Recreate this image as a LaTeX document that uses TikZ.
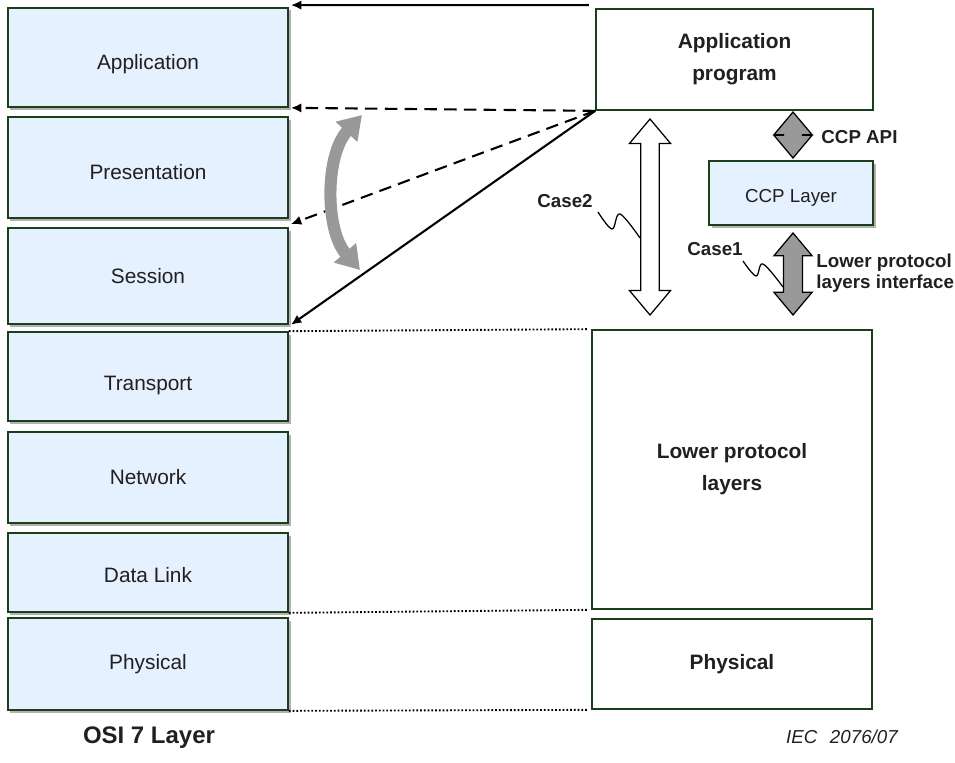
\documentclass[tikz,border=0pt]{standalone}
\usepackage{fontspec}
\setmainfont{Liberation Sans}
\usetikzlibrary{arrows.meta}
\usetikzlibrary{shapes.arrows}
\usetikzlibrary{shadows}
\definecolor{boxgreen}{HTML}{1B3F1B}
\definecolor{boxblue}{HTML}{E5F1FE}
\definecolor{txtgray}{HTML}{231F20}
\definecolor{arrowgray}{HTML}{999999}
\tikzset{osibox/.style = {draw = boxgreen, line width = 0.8pt, fill = boxblue, inner sep = 0,
                          drop shadow = {shadow xshift = 1.2pt, shadow yshift = -1.2pt,
                                         fill = black!30, opacity = 1},
                          text = txtgray, font = \fontsize{10}{12}\selectfont,
                          minimum width = 134.4pt}}
\tikzset{stackbox/.style = {draw = boxgreen, line width = 0.8pt, fill = white, inner sep = 0,
                            text = txtgray, align = center,
                            font = \fontsize{10}{15.4}\selectfont\bfseries,
                            minimum width = 134.4pt}}
\tikzset{fatarrow/.style = {double arrow, draw = black, line width = 0.6pt,
                            rotate = 90, double arrow tip angle = 80}}
\tikzset{note/.style = {text = txtgray, font = \fontsize{9}{10}\selectfont\bfseries, inner sep = 0}}
\tikzset{link/.style = {line width = 1pt, -{Latex[length = 5pt, width = 4.5pt]}}}
\tikzset{guide/.style = {line width = 0.9pt, dash pattern = on 0.9pt off 0.9pt}}

\begin{document}
\begin{tikzpicture}[x = 0.48pt, y = -0.48pt]
    \useasboundingbox (0, 0) rectangle (955, 762);
    \node [osibox, minimum height = 47.52pt, text height = 14pt] (osiapp) at (148, 57.5) {Application};
    \node [osibox, minimum height = 48.48pt, text height = 11.5pt] (osipres) at (148, 167.5) {Presentation};
    \node [osibox, minimum height = 46.08pt] (osises) at (148, 276) {Session};
    \node [osibox, minimum height = 42.72pt, text height = 15.5pt] (ositra) at (148, 376.5) {Transport};
    \node [osibox, minimum height = 43.68pt] (osinet) at (148, 477.5) {Network};
    \node [osibox, minimum height = 37.92pt, text height = 9.5pt] (osidl) at (148, 572.5) {Data Link};
    \node [osibox, minimum height = 44.16pt] (osiphy) at (148, 664) {Physical};

    \node [stackbox, minimum width = 132.96pt, minimum height = 48.48pt] (prog) at (734.5, 59.5) {Application\\program};
    \node [osibox, minimum width = 78.72pt, minimum height = 30.72pt, text height = 11pt,
           font = \fontsize{9}{11}\selectfont] (ccp) at (791, 193) {CCP Layer};
    \node [stackbox, minimum height = 133.92pt] (lower) at (732, 469.5) {Lower protocol\\layers};
    \node [stackbox, minimum height = 43.2pt] (phys) at (732, 664) {Physical};

    \node [fatarrow, fill = white, minimum height = 94.08pt, inner sep = 4.1pt,
           double arrow head extend = 5.5pt] (casetwoarrow) at (650, 217) {};
    \node [fatarrow, fill = arrowgray, minimum height = 22.08pt, inner sep = 4.3pt,
           double arrow head extend = 4.6pt] (apiarrow) at (793, 135) {};
    \node [fatarrow, fill = arrowgray, minimum height = 39.36pt, inner sep = 4.3pt,
           double arrow head extend = 4.6pt] (ifarrow) at (793, 274) {};

    \node [note, anchor = west] (apilabel) at (821, 137) {CCP API};
    \node [note, anchor = west, align = left] (iflabel) at (816, 273) {Lower protocol\\layers interface};
    \node [note] (caseone) at (715, 249) {Case1};
    \node [note] (casetwo) at (565, 201) {Case2};

    \draw [line width = 0.6pt] plot [smooth, tension = 0.6] coordinates {(598, 212) (612, 229) (620, 214) (640, 238)};
    \draw [line width = 0.6pt] plot [smooth, tension = 0.6] coordinates {(743, 261) (756, 276) (763, 264) (783, 287)};

    \draw [link] ([xshift = -3pt, yshift = 1.5pt] prog.north west) -- ([xshift = 1pt, yshift = 1pt] osiapp.north east);
    \draw [link, dash pattern = on 6pt off 3.5pt] (prog.south west) -- ([xshift = 1pt] osiapp.south east);
    \draw [link, dash pattern = on 6pt off 3.5pt] (prog.south west) -- ([xshift = 1pt, yshift = -2.5pt] osipres.south east);
    \draw [link] (prog.south west) -- ([xshift = 1pt] osises.south east);

    \draw [draw = arrowgray, line width = 5.8pt,
           {Triangle[width = 13.5pt, length = 11pt]}-{Triangle[width = 13.5pt, length = 11pt]}]
          (360, 270) .. controls (325, 230) and (325, 155) .. (362, 115);

    \draw [guide] (ositra.north east) -- ([xshift = -2pt] lower.north west);
    \draw [guide] (osidl.south east) -- ([xshift = -2pt] lower.south west);
    \draw [guide] (osiphy.south east) -- ([xshift = -2pt] phys.south west);

    \node [font = \fontsize{11.5}{13}\selectfont\bfseries, text = txtgray] (osititle) at (149, 738) {OSI 7 Layer};
    \node [font = \fontsize{9}{10}\selectfont\itshape, text = txtgray] (iecref) at (842, 737) {IEC\hspace{6pt}2076/07};
\end{tikzpicture}
\end{document}
